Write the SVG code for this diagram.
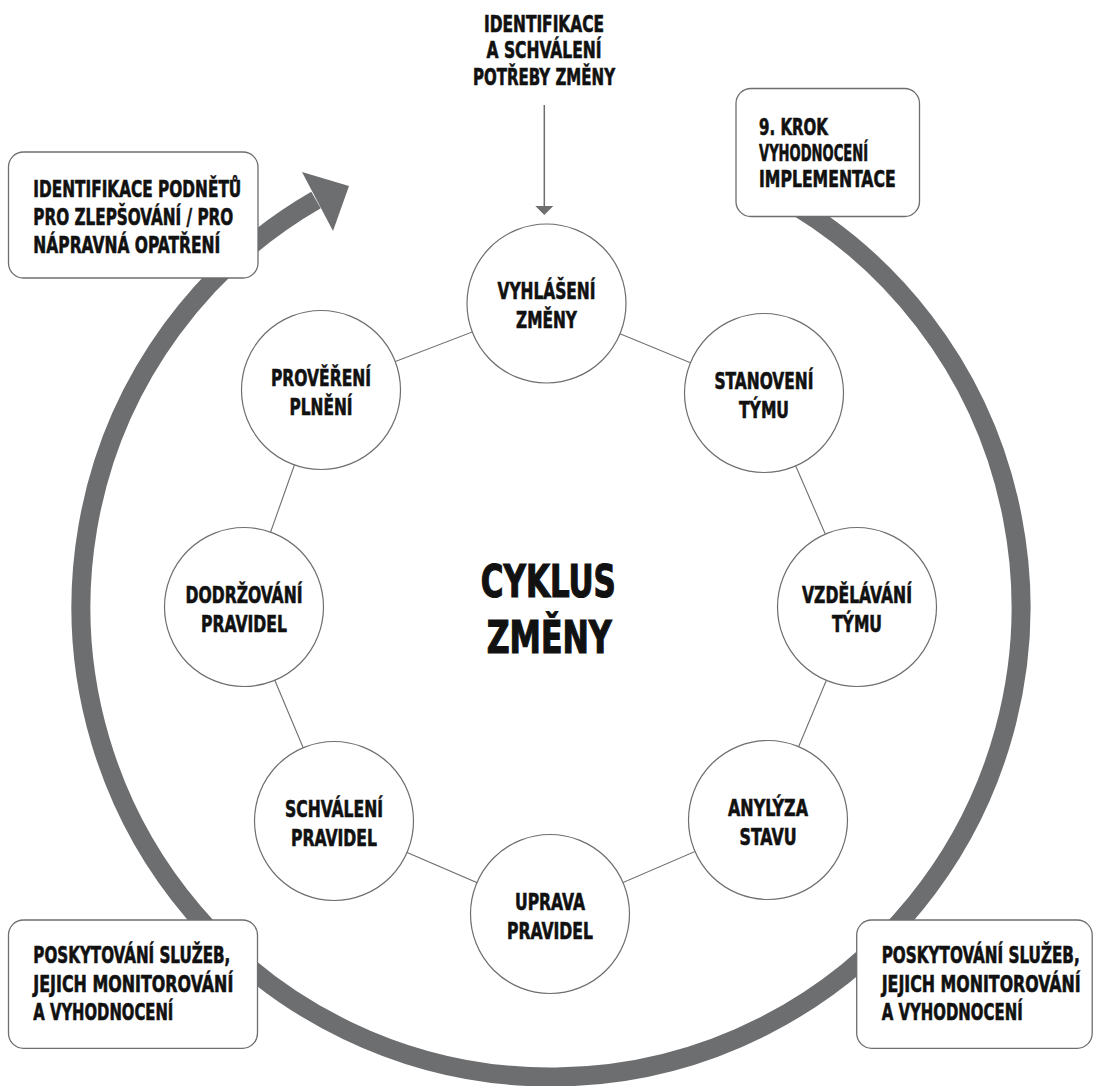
<svg xmlns="http://www.w3.org/2000/svg" width="1094" height="1086" viewBox="0 0 1094 1086">
<style>
  text { font-family: "Liberation Sans Narrow", "DejaVu Sans Condensed", "DejaVu Sans", sans-serif; font-weight: bold; font-size: 23px; fill: #111; stroke: #111; stroke-width: 0.6; }
  .c { text-anchor: middle; }
  .e { text-anchor: end; }
  .big { font-size: 44px; stroke-width: 1.2; }
  .box { fill: #fff; stroke: #6d6e70; stroke-width: 1.3; }
  .node { fill: #fff; stroke: #6d6e70; stroke-width: 1.2; }
  .link { stroke: #6d6e70; stroke-width: 1.1; fill: none; }
  .ring { stroke: #6d6e70; stroke-width: 19; fill: none; }
</style>

<g id="connectors">
  <path class="ring" d="M776.7,194.8 A470,470 0 1 1 316,200"/>
  <polygon points="302,172 333,231 349,186" fill="#6d6e70"/>
  <line class="link" x1="546.5" y1="303.5" x2="764" y2="393"/>
  <line class="link" x1="764" y1="393" x2="857" y2="607"/>
  <line class="link" x1="857" y1="607" x2="768" y2="820"/>
  <line class="link" x1="768" y1="820" x2="550" y2="914"/>
  <line class="link" x1="550" y1="914" x2="334" y2="821"/>
  <line class="link" x1="334" y1="821" x2="244" y2="607"/>
  <line class="link" x1="244" y1="607" x2="321" y2="390"/>
  <line class="link" x1="321" y1="390" x2="546.5" y2="303.5"/>
  <line x1="544.3" y1="105" x2="544.3" y2="206" stroke="#6d6e70" stroke-width="1.5"/>
  <path d="M535.3,206 L553.3,206 L544.3,215 Z" fill="#6d6e70"/>
</g>

<g id="label-top">
  <text class="c" x="544" y="31.7" textLength="120" lengthAdjust="spacingAndGlyphs">IDENTIFIKACE</text>
  <text class="c" x="544" y="57.5" textLength="115" lengthAdjust="spacingAndGlyphs">A SCHVÁLENÍ</text>
  <text class="c" x="544" y="85" textLength="142" lengthAdjust="spacingAndGlyphs">POTŘEBY ZMĚNY</text>
</g>

<g id="box-podnety">
  <rect class="box" x="8.5" y="152" width="249.5" height="126" rx="15"/>
  <text x="33.3" y="196.7" textLength="208" lengthAdjust="spacingAndGlyphs">IDENTIFIKACE PODNĚTŮ</text>
  <text x="33.3" y="225" textLength="200" lengthAdjust="spacingAndGlyphs">PRO ZLEPŠOVÁNÍ / PRO</text>
  <text x="33.3" y="253" textLength="187" lengthAdjust="spacingAndGlyphs">NÁPRAVNÁ OPATŘENÍ</text>
</g>

<g id="box-krok9">
  <rect class="box" x="736" y="88.5" width="183.5" height="128" rx="15"/>
  <text x="759" y="135" textLength="69" lengthAdjust="spacingAndGlyphs">9. KROK</text>
  <text x="759" y="161" textLength="109" lengthAdjust="spacingAndGlyphs">VYHODNOCENÍ</text>
  <text x="759" y="187" textLength="136.7" lengthAdjust="spacingAndGlyphs">IMPLEMENTACE</text>
</g>

<g id="box-sluzby-left">
  <rect class="box" x="8.5" y="920" width="249" height="128.3" rx="15"/>
  <text x="33.3" y="963.3" textLength="197" lengthAdjust="spacingAndGlyphs">POSKYTOVÁNÍ SLUŽEB,</text>
  <text x="33.3" y="991.7" textLength="200" lengthAdjust="spacingAndGlyphs">JEJICH MONITOROVÁNÍ</text>
  <text x="33.3" y="1020" textLength="140" lengthAdjust="spacingAndGlyphs">A VYHODNOCENÍ</text>
</g>

<g id="box-sluzby-right">
  <rect class="box" x="856.7" y="920" width="235.5" height="128.3" rx="15"/>
  <text class="e" x="1079.7" y="963.3" textLength="198" lengthAdjust="spacingAndGlyphs">POSKYTOVÁNÍ SLUŽEB,</text>
  <text class="e" x="1080.7" y="991.7" textLength="199" lengthAdjust="spacingAndGlyphs">JEJICH MONITOROVÁNÍ</text>
  <text class="e" x="1022.7" y="1020" textLength="141" lengthAdjust="spacingAndGlyphs">A VYHODNOCENÍ</text>
</g>

<g id="node-vyhlaseni">
  <circle class="node" cx="546.5" cy="303.5" r="79.5"/>
  <text class="c" x="546.5" y="299.3" textLength="98" lengthAdjust="spacingAndGlyphs">VYHLÁŠENÍ</text>
  <text class="c" x="546.5" y="328.3" textLength="61" lengthAdjust="spacingAndGlyphs">ZMĚNY</text>
</g>
<g id="node-stanoveni">
  <circle class="node" cx="764" cy="393" r="79.5"/>
  <text class="c" x="764" y="389" textLength="99" lengthAdjust="spacingAndGlyphs">STANOVENÍ</text>
  <text class="c" x="764" y="418" textLength="50" lengthAdjust="spacingAndGlyphs">TÝMU</text>
</g>
<g id="node-vzdelavani">
  <circle class="node" cx="857" cy="607" r="79.5"/>
  <text class="c" x="857" y="603" textLength="110" lengthAdjust="spacingAndGlyphs">VZDĚLÁVÁNÍ</text>
  <text class="c" x="857" y="632" textLength="50" lengthAdjust="spacingAndGlyphs">TÝMU</text>
</g>
<g id="node-analyza">
  <circle class="node" cx="768" cy="820" r="79.5"/>
  <text class="c" x="768" y="816" textLength="80" lengthAdjust="spacingAndGlyphs">ANYLÝZA</text>
  <text class="c" x="768" y="845" textLength="57" lengthAdjust="spacingAndGlyphs">STAVU</text>
</g>
<g id="node-uprava">
  <circle class="node" cx="550" cy="914" r="79.5"/>
  <text class="c" x="550" y="910" textLength="70" lengthAdjust="spacingAndGlyphs">UPRAVA</text>
  <text class="c" x="550" y="939" textLength="86" lengthAdjust="spacingAndGlyphs">PRAVIDEL</text>
</g>
<g id="node-schvaleni">
  <circle class="node" cx="334" cy="821" r="79.5"/>
  <text class="c" x="334" y="817" textLength="98" lengthAdjust="spacingAndGlyphs">SCHVÁLENÍ</text>
  <text class="c" x="334" y="846" textLength="86" lengthAdjust="spacingAndGlyphs">PRAVIDEL</text>
</g>
<g id="node-dodrzovani">
  <circle class="node" cx="244" cy="607" r="79.5"/>
  <text class="c" x="244" y="603" textLength="117" lengthAdjust="spacingAndGlyphs">DODRŽOVÁNÍ</text>
  <text class="c" x="244" y="632" textLength="86" lengthAdjust="spacingAndGlyphs">PRAVIDEL</text>
</g>
<g id="node-provereni">
  <circle class="node" cx="321" cy="390" r="79.5"/>
  <text class="c" x="321" y="386" textLength="100" lengthAdjust="spacingAndGlyphs">PROVĚŘENÍ</text>
  <text class="c" x="321" y="415" textLength="63" lengthAdjust="spacingAndGlyphs">PLNĚNÍ</text>
</g>

<g id="title">
  <text class="c big" x="548.3" y="597.3" textLength="135" lengthAdjust="spacingAndGlyphs">CYKLUS</text>
  <text class="c big" x="549.2" y="653.3" textLength="125" lengthAdjust="spacingAndGlyphs">ZMĚNY</text>
</g>
</svg>
